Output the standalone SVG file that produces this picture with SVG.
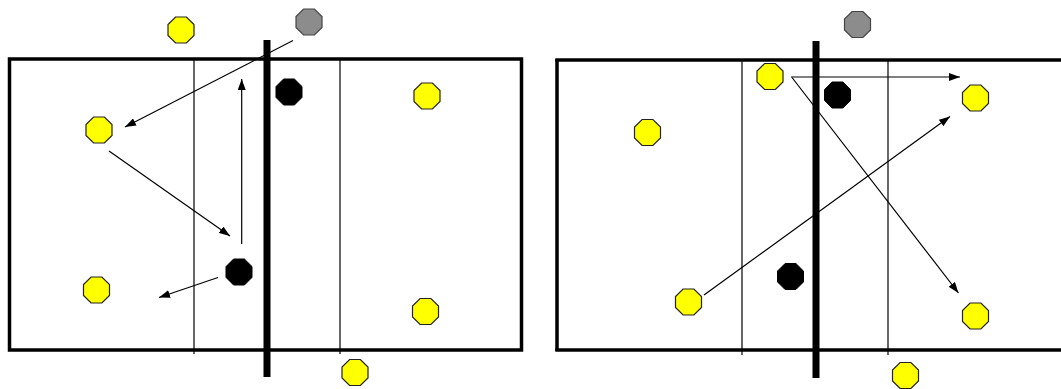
<svg xmlns="http://www.w3.org/2000/svg" xmlns:xlink="http://www.w3.org/1999/xlink" width="1061" height="389" viewBox="0 0 1061 389">
<style>
.court{fill:none;stroke:#000;stroke-width:3.5}
.attack{stroke:#000;stroke-width:1.2}
.net{stroke:#000;stroke-width:7}
.arrow{stroke:#000;stroke-width:1.2;fill:none;marker-end:url(#ah)}
.yellow{fill:#FFFF00;stroke:#222;stroke-width:1.2}
.black{fill:#000;stroke:#000;stroke-width:1}
.gray{fill:#8C8C8C;stroke:#444;stroke-width:1.2}
</style>
<defs>
<polygon id="oct" points="-5.4,-13 5.4,-13 13,-5.4 13,5.4 5.4,13 -5.4,13 -13,5.4 -13,-5.4"/>
<marker id="ah" viewBox="0 0 11 8" refX="11" refY="4" markerWidth="11" markerHeight="8" markerUnits="userSpaceOnUse" orient="auto">
<path d="M0,0 L11,4 L0,8 z" fill="#000"/>
</marker>
</defs>
<rect width="1061" height="389" fill="#fff"/>
<g id="court-left">
<rect class="court" x="9.5" y="59" width="512" height="291"/>
<line class="attack" x1="194" y1="59" x2="194" y2="354"/>
<line class="attack" x1="340" y1="59" x2="340" y2="354"/>
<line class="net" x1="267" y1="40" x2="267" y2="377"/>
</g>
<g id="court-right">
<line class="court" x1="557" y1="59" x2="557" y2="351"/>
<line class="court" x1="555.3" y1="60" x2="1061" y2="60"/>
<line class="court" x1="555.3" y1="350" x2="1061" y2="350"/>
<line class="attack" x1="742" y1="60" x2="742" y2="355"/>
<line class="attack" x1="888" y1="60" x2="888" y2="355"/>
<line class="net" x1="816" y1="41" x2="816" y2="378"/>
</g>
<g id="connectors">
<line class="arrow" x1="293" y1="40.5" x2="125" y2="127"/>
<line class="arrow" x1="109" y1="151" x2="230" y2="236"/>
<line class="arrow" x1="241.7" y1="244" x2="241.7" y2="79"/>
<line class="arrow" x1="218" y1="277.5" x2="159" y2="297.5"/>
<line class="arrow" x1="791" y1="77" x2="960" y2="77"/>
<line class="arrow" x1="792" y1="77.5" x2="958.5" y2="293"/>
<line class="arrow" x1="704" y1="295" x2="950" y2="116.5"/>
</g>
<g id="L-y1"><use xlink:href="#oct" class="yellow" transform="translate(181,30)"/></g>
<g id="L-gray"><use xlink:href="#oct" class="gray" transform="translate(309,22)"/></g>
<g id="L-b1"><use xlink:href="#oct" class="black" transform="translate(289,92)"/></g>
<g id="L-y2"><use xlink:href="#oct" class="yellow" transform="translate(99,130)"/></g>
<g id="L-y3"><use xlink:href="#oct" class="yellow" transform="translate(427,96)"/></g>
<g id="L-b2"><use xlink:href="#oct" class="black" transform="translate(239,272)"/></g>
<g id="L-y4"><use xlink:href="#oct" class="yellow" transform="translate(96.5,290)"/></g>
<g id="L-y5"><use xlink:href="#oct" class="yellow" transform="translate(425.5,311.5)"/></g>
<g id="L-y6"><use xlink:href="#oct" class="yellow" transform="translate(355,372.5)"/></g>
<g id="R-gray"><use xlink:href="#oct" class="gray" transform="translate(857.5,24.5)"/></g>
<g id="R-y1"><use xlink:href="#oct" class="yellow" transform="translate(770,76.5)"/></g>
<g id="R-b1"><use xlink:href="#oct" class="black" transform="translate(837.5,95)"/></g>
<g id="R-y2"><use xlink:href="#oct" class="yellow" transform="translate(647.5,132.5)"/></g>
<g id="R-y3"><use xlink:href="#oct" class="yellow" transform="translate(975.5,98)"/></g>
<g id="R-b2"><use xlink:href="#oct" class="black" transform="translate(790.5,276.5)"/></g>
<g id="R-y4"><use xlink:href="#oct" class="yellow" transform="translate(688.5,302)"/></g>
<g id="R-y5"><use xlink:href="#oct" class="yellow" transform="translate(975.5,316)"/></g>
<g id="R-y6"><use xlink:href="#oct" class="yellow" transform="translate(905.5,375.5)"/></g>
</svg>
